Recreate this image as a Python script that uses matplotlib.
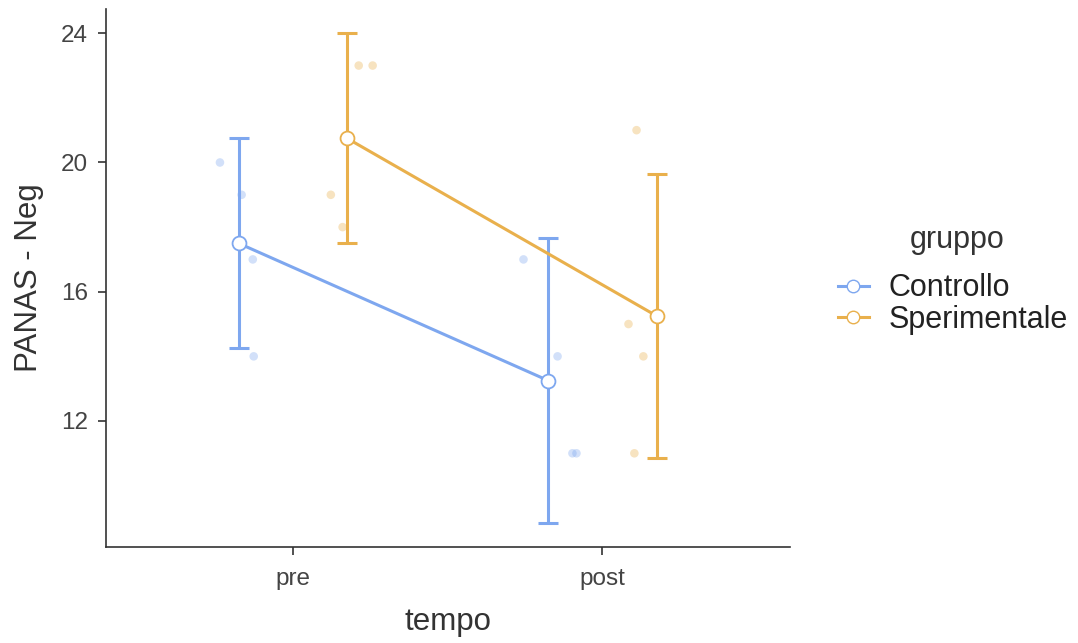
import numpy as np
import matplotlib.pyplot as plt
from matplotlib.lines import Line2D

plt.rcParams['font.family'] = ['Liberation Sans', 'DejaVu Sans']

# --- data ---
times = ["pre", "post"]
groups = ["Controllo", "Sperimentale"]
colors = {"Controllo": "#7EA7EF", "Sperimentale": "#E9B04C"}

means = {"Controllo": [17.5, 13.25], "Sperimentale": [20.75, 15.25]}
ci_low = {"Controllo": [14.25, 8.85], "Sperimentale": [17.5, 10.85]}
ci_high = {"Controllo": [20.75, 17.65], "Sperimentale": [24.0, 19.65]}

raw_x = {
    "Controllo": [0.765, 0.835, 0.871, 0.874, 1.745, 1.855, 1.903, 1.916],
    "Sperimentale": [1.123, 1.161, 1.213, 1.258, 2.110, 2.084, 2.132, 2.103],
}
raw_y = {
    "Controllo": [20, 19, 17, 14, 17, 14, 11, 11],
    "Sperimentale": [19, 18, 23, 23, 21, 15, 14, 11],
}
dodge = {"Controllo": -0.175, "Sperimentale": 0.175}

fig = plt.figure(figsize=(10.78, 6.43), dpi=100)
ax = fig.add_axes([0.0983, 0.1493, 0.6347, 0.8367])

xpos = np.arange(1, len(times) + 1)
for g in groups:
    c = colors[g]
    ax.scatter(raw_x[g], raw_y[g], s=38, color=c, alpha=0.35, edgecolor="none", zorder=1)
    x = xpos + dodge[g]
    m = np.array(means[g])
    err = [m - np.array(ci_low[g]), np.array(ci_high[g]) - m]
    ax.errorbar(x, m, yerr=err, fmt="none", ecolor=c, elinewidth=2.2, capsize=7,
                capthick=2.2, zorder=2)
    ax.plot(x, m, color=c, lw=2.2, zorder=3)
    ax.plot(x, m, "o", ms=10, mfc="white", mec=c, mew=1.3, zorder=4)

ax.set_xlim(0.397, 2.606)
ax.set_ylim(8.1, 24.75)
ax.set_xticks(xpos)
ax.set_xticklabels(times)
ax.set_yticks([12, 16, 20, 24])
ax.tick_params(colors="#333333", labelcolor="#444444", labelsize=17.5, length=6,
               width=1.2, pad=7)
ax.tick_params(axis="x", pad=9)
for side in ["top", "right"]:
    ax.spines[side].set_visible(False)
for side in ["left", "bottom"]:
    ax.spines[side].set_color("#333333")
    ax.spines[side].set_linewidth(1.2)

ax.set_xlabel("tempo", fontsize=22.5, color="#333333", labelpad=12)
ax.set_ylabel("PANAS - Neg", fontsize=22.5, color="#333333", labelpad=12)

fig.text(957 / 1078, 1 - 240 / 643, "gruppo", fontsize=22, color="#333333",
         ha="center", va="center")
handles = [Line2D([0], [0], color=colors[g], lw=2.2, marker="o", ms=9, mfc="white",
                  mec=colors[g]) for g in groups]
leg = fig.legend(handles, groups, loc="center left",
                 bbox_to_anchor=(838 / 1078, 1 - 304 / 643), frameon=False, fontsize=22,
                 handlelength=1.0, handletextpad=0.65, labelspacing=0.05,
                 borderaxespad=0, borderpad=0)
for t in leg.get_texts():
    t.set_color("#222222")

fig.savefig("out.png", dpi=100)
